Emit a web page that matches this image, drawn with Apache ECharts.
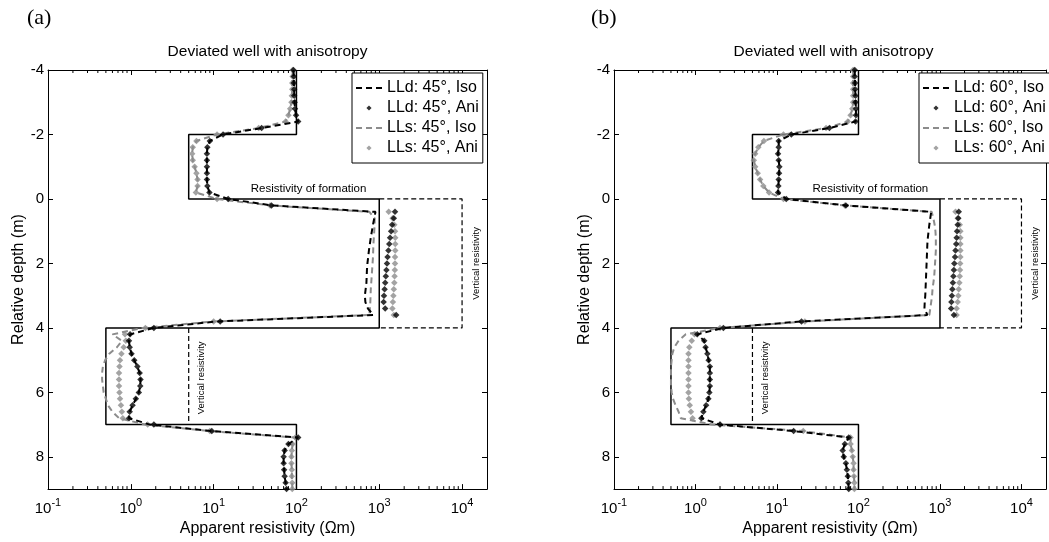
<!DOCTYPE html>
<html><head><meta charset="utf-8">
<script src="https://cdn.jsdelivr.net/npm/echarts@6/dist/echarts.min.js"></script>
<style>html,body{margin:0;padding:0;background:#fff}#c{width:1049px;height:542px}</style>
</head><body><div id="c"></div><script>
// ---------- DATA ----------
const DEPTH = [-4,-3.8,-3.6,-3.4,-3.2,-3,-2.8,-2.6,-2.4,-2.2,-2,-1.8,-1.6,-1.4,-1.2,-1,-0.8,-0.6,-0.4,-0.2,
  0,0.2,0.4,0.6,0.8,1,1.2,1.4,1.6,1.8,2,2.2,2.4,2.6,2.8,3,3.2,3.4,3.6,3.8,
  4,4.2,4.4,4.6,4.8,5,5.2,5.4,5.6,5.8,6,6.2,6.4,6.6,6.8,7,7.2,7.4,7.6,7.8,8,8.2,8.4,8.6,8.8,9];

// formation (horizontal) resistivity step profile
const FORM_DEPTH = [-4,-2,-2,0,0,4,4,7,7,9];
const FORM_RES   = [100,100,5,5,1000,1000,0.5,0.5,100,100];
// vertical resistivity in anisotropic layers
const VERT1_DEPTH = [0,0,4,4];
const VERT1_RES   = [1000,10000,10000,1000];
const VERT2_DEPTH = [4,7];
const VERT2_RES   = [5,5];

// panel (a) 45 deg
const A_LLD_ISO = [92,93,93,94,94,95,96,99,105,38,13,9.0,8.4,8.3,8.3,8.3,8.3,8.3,8.4,8.9,
  15,50,900,870,840,815,790,770,750,735,720,710,705,700,685,670,680,730,850,11,
  1.9,0.98,0.95,0.97,1.02,1.1,1.2,1.28,1.31,1.3,1.25,1.15,1.05,0.97,0.95,1.7,9.5,105,80,72,70,70,71,72,74,76];
const A_LLD_ANI = [92,93,93,94,94,95,96,99,105,38,13,9.0,8.4,8.3,8.3,8.3,8.3,8.3,8.4,8.9,
  15,50,1550,1500,1430,1390,1350,1320,1290,1260,1240,1220,1200,1180,1160,1140,1130,1180,1600,12,
  1.9,0.98,0.95,0.97,1.02,1.1,1.2,1.28,1.31,1.3,1.25,1.15,1.05,0.97,0.95,1.9,9.5,105,80,72,70,70,71,72,74,76];
const A_LLS_ISO = [90,90,89,89,88,87,84,80,74,35,11,6.2,5.6,5.5,5.6,5.9,6.2,6.4,6.4,6.1,
  11,48,760,880,880,870,860,850,845,840,830,820,810,800,790,785,780,770,760,10,
  1.4,0.6,0.78,0.68,0.55,0.49,0.46,0.45,0.45,0.46,0.47,0.5,0.53,0.6,0.72,1.5,9,97,90,88,87,87,88,88,89,89];
const A_LLS_ANI = [90,90,89,89,88,87,84,80,74,35,11,6.2,5.6,5.5,5.6,5.9,6.2,6.4,6.4,6.1,
  11,48,1300,1450,1520,1550,1560,1560,1560,1550,1550,1540,1530,1520,1500,1480,1460,1440,1500,10,
  1.5,0.85,0.87,0.82,0.77,0.74,0.73,0.72,0.72,0.72,0.73,0.74,0.76,0.78,0.8,1.6,9,97,90,88,87,87,88,88,89,89];

// panel (b) 60 deg
const B_LLD_ISO = [90,90,91,91,92,92,93,93,92,44,15,10.5,10.5,10.3,10.5,10.7,10.6,10.5,10.4,10.3,
  13,70,780,760,740,725,710,700,695,690,685,680,675,670,665,660,650,645,700,20,
  2.2,1.05,1.28,1.33,1.4,1.45,1.5,1.5,1.5,1.5,1.48,1.44,1.35,1.25,1.18,2.0,16,76,68,64,66,70,72,74,75,76];
const B_LLD_ANI = [90,90,91,91,92,92,93,93,92,44,15,10.5,10.5,10.3,10.5,10.7,10.6,10.5,10.4,10.3,
  13,70,1700,1680,1650,1620,1600,1580,1550,1530,1500,1480,1460,1440,1420,1400,1380,1370,1480,20,
  2.2,1.05,1.28,1.33,1.4,1.45,1.5,1.5,1.5,1.5,1.48,1.44,1.35,1.25,1.18,2.0,16,76,68,64,66,70,72,74,75,76];
const B_LLS_ISO = [86,86,86,86,86,86,84,80,74,40,12,6.9,5.9,5.4,5.2,5.4,5.8,6.2,6.8,8.0,
  12,68,790,830,860,880,890,890,890,880,870,860,850,830,810,800,780,760,740,22,
  2.0,0.76,0.62,0.55,0.52,0.51,0.5,0.5,0.5,0.5,0.51,0.53,0.57,0.62,0.66,1.6,21,80,80,83,85,87,87,88,89,89];
const B_LLS_ANI = [86,86,86,86,86,86,84,80,74,40,12,6.9,5.9,5.4,5.2,5.4,5.8,6.2,6.8,8.0,
  12,68,1550,1650,1750,1780,1780,1780,1780,1780,1770,1760,1750,1730,1700,1680,1650,1600,1600,22,
  2.0,0.97,0.9,0.84,0.82,0.82,0.82,0.82,0.82,0.82,0.82,0.83,0.85,0.88,0.92,2.0,21,80,80,83,85,87,87,88,89,89];

const MINOR_TICKS = [0.2,0.3,0.4,0.5,0.6,0.7,0.8,0.9, 2,3,4,5,6,7,8,9, 20,30,40,50,60,70,80,90,
  200,300,400,500,600,700,800,900, 2000,3000,4000,5000,6000,7000,8000,9000];

const TITLE = 'Deviated well with anisotropy';
const X_NAME = 'Apparent resistivity (Ωm)';
const Y_NAME = 'Relative depth (m)';

// ---------- CHART ----------
const FONT = "'Liberation Sans', Arial, Helvetica, sans-serif";
const GRAY = '#8c8c8c';
const GRIDS = [{left:48, top:70, width:439, height:420}, {left:614, top:70, width:439, height:420}];
// legend diamond centred in a 26x6 icon box
const DIAMOND_ICON = 'path://M0,0L0.001,0M26,6L26.001,6M13,0.4L15.6,3L13,5.6L10.4,3Z';
function pairs(xs, ys){ return xs.map((x,i)=>[x, ys[i]]); }
function logLabel(v){
  const l = Math.log10(v), e = Math.round(l);
  if (Math.abs(l - e) > 1e-6) return '';
  return '{b|10}{s|' + e + '}';
}

const xAxis = [], yAxis = [], series = [], legend = [];
const panels = [
  {angle:45, lldIso:A_LLD_ISO, lldAni:A_LLD_ANI, llsIso:A_LLS_ISO, llsAni:A_LLS_ANI},
  {angle:60, lldIso:B_LLD_ISO, lldAni:B_LLD_ANI, llsIso:B_LLS_ISO, llsAni:B_LLS_ANI}
];
const axLine = {show:true, onZero:false, lineStyle:{color:'#000', width:1}};
panels.forEach((P, p) => {
  xAxis.push({gridIndex:p, type:'log', logBase:10, min:0.1, max:20000, position:'bottom',
    axisLine:axLine, axisTick:{show:true, inside:true, length:5, lineStyle:{color:'#000'}},
    splitLine:{show:false},
    axisLabel:{formatter:logLabel, margin:8, color:'#000',
      rich:{b:{fontSize:15, fontFamily:FONT, color:'#000'}, s:{fontSize:11, fontFamily:FONT, color:'#000', padding:[0,0,12,0]}}},
    name:X_NAME, nameLocation:'middle', nameGap:30,
    nameTextStyle:{fontSize:16, fontFamily:FONT, color:'#000'}});
  xAxis.push({gridIndex:p, type:'log', logBase:10, min:0.1, max:20000, position:'top',
    axisLine:axLine, axisTick:{show:true, inside:true, length:5, lineStyle:{color:'#000'}},
    splitLine:{show:false}, axisLabel:{show:false}});
  yAxis.push({gridIndex:p, type:'value', inverse:true, min:-4, max:9, interval:2, position:'left',
    axisLine:axLine, axisTick:{show:true, inside:true, length:5, lineStyle:{color:'#000'}},
    splitLine:{show:false},
    axisLabel:{formatter:v => (v === 9 ? '' : String(v)), margin:4, fontSize:15, fontFamily:FONT, color:'#000'},
    name:Y_NAME, nameLocation:'middle', nameGap:18,
    nameTextStyle:{fontSize:16, fontFamily:FONT, color:'#000'}});
  yAxis.push({gridIndex:p, type:'value', inverse:true, min:-4, max:9, interval:2, position:'right',
    axisLine:axLine, axisTick:{show:true, inside:true, length:5, lineStyle:{color:'#000'}},
    splitLine:{show:false}, axisLabel:{show:false}});
  const xi = p*2, yi = p*2;
  const nm = {
    lldIso:'LLd: ' + P.angle + '°, Iso', lldAni:'LLd: ' + P.angle + '°, Ani',
    llsIso:'LLs: ' + P.angle + '°, Iso', llsAni:'LLs: ' + P.angle + '°, Ani'};
  const lbl = (txt, rot, size) => ({show:true, position:'inside', formatter:txt, rotate:rot,
    fontSize:size, fontFamily:FONT, color:'#000'});
  series.push({type:'line', name:'formation'+p, xAxisIndex:xi, yAxisIndex:yi, symbol:'none',
    data:pairs(FORM_RES, FORM_DEPTH), lineStyle:{color:'#000', width:1.5}, z:3, silent:true,
    markPoint:{symbol:'circle', symbolSize:0, silent:true, data:[
      {coord:[140,-0.3], label:lbl('Resistivity of formation', 0, 11.5)},
      {coord:[15000,2.0], label:lbl('Vertical resistivity', 90, 9.5)},
      {coord:[7.2,5.55], label:lbl('Vertical resistivity', 90, 9.5)}
    ]}});
  series.push({type:'line', name:'vert1'+p, xAxisIndex:xi, yAxisIndex:yi, symbol:'none', silent:true,
    data:pairs(VERT1_RES, VERT1_DEPTH), lineStyle:{color:'#000', width:1.2, type:[5,3]}, z:3});
  series.push({type:'line', name:'vert2'+p, xAxisIndex:xi, yAxisIndex:yi, symbol:'none', silent:true,
    data:pairs(VERT2_RES, VERT2_DEPTH), lineStyle:{color:'#000', width:1.2, type:[5,3]}, z:3});
  series.push({type:'line', name:nm.llsIso, xAxisIndex:xi, yAxisIndex:yi, symbol:'none',
    data:pairs(P.llsIso, DEPTH), lineStyle:{color:GRAY, width:2, type:[6,4]}, itemStyle:{color:GRAY}, z:4});
  series.push({type:'scatter', name:nm.llsAni, xAxisIndex:xi, yAxisIndex:yi, symbol:'diamond', symbolSize:6.5,
    data:pairs(P.llsAni, DEPTH), itemStyle:{color:GRAY}, z:5});
  series.push({type:'line', name:nm.lldIso, xAxisIndex:xi, yAxisIndex:yi, symbol:'none',
    data:pairs(P.lldIso, DEPTH), lineStyle:{color:'#000', width:2, type:[6,4]}, itemStyle:{color:'#000'}, z:6});
  series.push({type:'scatter', name:nm.lldAni, xAxisIndex:xi, yAxisIndex:yi, symbol:'diamond', symbolSize:6.5,
    data:pairs(P.lldAni, DEPTH), itemStyle:{color:'#000'}, z:7});
  series.push({type:'custom', name:'minor'+p, xAxisIndex:xi, yAxisIndex:yi, silent:true, clip:false,
    data:MINOR_TICKS.map(v => [v, -4]),
    renderItem:(params, api) => {
      const x = api.value(0);
      const t = api.coord([x, -4]), b = api.coord([x, 9]);
      const st = {stroke:'#000', lineWidth:1};
      return {type:'group', children:[
        {type:'line', shape:{x1:t[0], y1:t[1], x2:t[0], y2:t[1]+3}, style:st},
        {type:'line', shape:{x1:b[0], y1:b[1], x2:b[0], y2:b[1]-3}, style:st}]};
    }, z:2});
  legend.push({orient:'vertical', left:(p === 0 ? 352 : 919), top:73, selectedMode:false,
    data:[{name:nm.lldIso, itemStyle:{opacity:0}}, {name:nm.lldAni, icon:DIAMOND_ICON},
          {name:nm.llsIso, itemStyle:{opacity:0}}, {name:nm.llsAni, icon:DIAMOND_ICON}],
    itemWidth:26, itemHeight:6, itemGap:4, padding:[7,4,7,3],
    borderColor:'#000', borderWidth:1, backgroundColor:'#fff',
    textStyle:{fontSize:16, fontFamily:FONT, color:'#000'}, z:10});
});

const graphic = [
  {type:'text', x:267.5, y:44, style:{text:TITLE, font:'15.5px ' + FONT, fill:'#000', textAlign:'center'}},
  {type:'text', x:833.5, y:44, style:{text:TITLE, font:'15.5px ' + FONT, fill:'#000', textAlign:'center'}},
  {type:'text', x:27, y:7, style:{text:'(a)', font:"22px 'Liberation Serif', 'Times New Roman', serif", fill:'#000'}},
  {type:'text', x:591, y:7, style:{text:'(b)', font:"22px 'Liberation Serif', 'Times New Roman', serif", fill:'#000'}}
];

const chart = echarts.init(document.getElementById('c'), null, {renderer:'canvas'});
chart.setOption({animation:false, backgroundColor:'#fff', textStyle:{fontFamily:FONT},
  grid:GRIDS, xAxis, yAxis, series, legend, graphic});
</script></body></html>
